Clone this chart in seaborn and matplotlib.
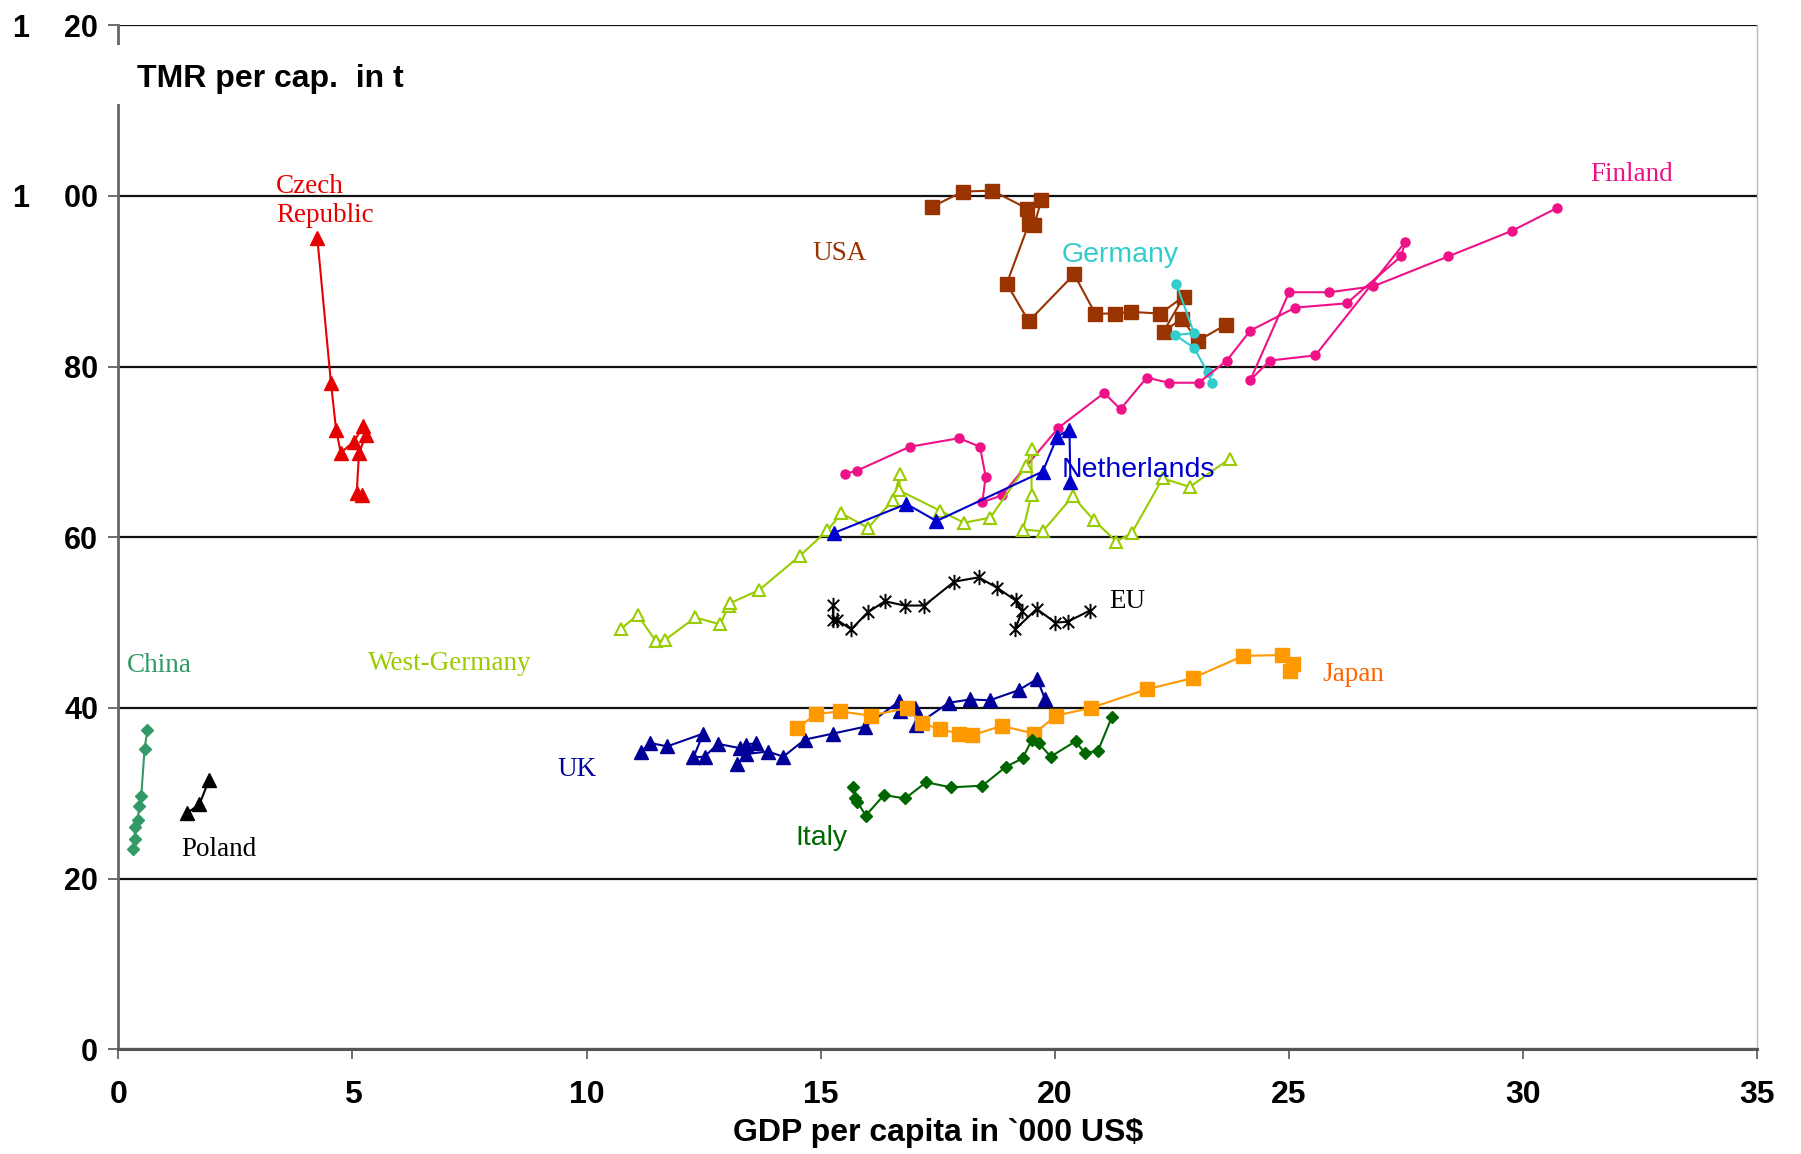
import matplotlib
matplotlib.use("Agg")
import matplotlib.pyplot as plt
from matplotlib.path import Path
from matplotlib.patches import Rectangle
import seaborn as sns
import pandas as pd

# ---------------- data ----------------
czech_x = [4.25, 4.54, 4.65, 4.75, 5.03, 5.23, 5.29, 5.14, 5.09, 5.21]
czech_y = [95.0, 78.1, 72.6, 69.9, 71.2, 73.0, 72.0, 69.9, 65.2, 65.0]

usa_x = [17.37, 18.04, 18.66, 19.41, 19.71, 19.56, 19.44, 18.97, 19.44, 20.41,
         20.86, 21.28, 21.63, 22.25, 22.75, 22.32, 22.71, 23.05, 23.65]
usa_y = [98.7, 100.5, 100.6, 98.5, 99.5, 96.6, 96.7, 89.7, 85.3, 90.8,
         86.2, 86.2, 86.4, 86.2, 88.2, 84.1, 85.6, 83.0, 84.9]

germany_x = [22.59, 22.97, 22.56, 22.97, 23.26, 23.35]
germany_y = [89.7, 83.9, 83.7, 82.2, 79.3, 78.1]

finland_x = [15.51, 15.77, 16.90, 17.95, 18.40, 18.52, 18.45, 18.86, 20.07, 21.05,
             21.40, 21.96, 22.43, 23.07, 23.67, 24.17, 25.13, 26.23, 27.39, 27.48,
             25.56, 24.59, 24.17, 25.00, 25.86, 26.80, 28.40, 29.76, 30.73]
finland_y = [67.4, 67.8, 70.6, 71.6, 70.6, 67.1, 64.1, 64.9, 72.8, 76.9,
             75.0, 78.7, 78.1, 78.1, 80.7, 84.2, 86.9, 87.4, 92.9, 94.6,
             81.3, 80.7, 78.4, 88.7, 88.7, 89.4, 92.9, 95.9, 98.6]

netherlands_x = [15.28, 16.83, 17.47, 19.74, 20.05, 20.31, 20.33]
netherlands_y = [60.5, 63.9, 61.9, 67.7, 71.8, 72.6, 66.5]

wgermany_x = [10.74, 11.09, 11.48, 11.68, 12.32, 12.85, 13.03, 13.07, 13.68, 14.55,
              15.14, 15.44, 16.01, 16.55, 16.69, 16.67, 17.55, 18.06, 18.62, 19.38,
              19.50, 19.50, 19.32, 19.74, 20.38, 20.83, 21.31, 21.64, 22.30, 22.88, 23.73]
wgermany_y = [49.3, 50.9, 47.8, 48.0, 50.6, 49.8, 51.9, 52.3, 53.8, 57.8,
              60.8, 62.8, 61.1, 64.4, 67.4, 65.5, 63.1, 61.7, 62.3, 68.3,
              70.3, 65.0, 60.9, 60.7, 64.8, 62.0, 59.5, 60.5, 66.9, 65.9, 69.2]

eu_x = [15.26, 15.26, 15.35, 15.65, 16.00, 16.37, 16.79, 17.21, 17.85, 18.37,
        18.76, 19.16, 19.30, 19.15, 19.61, 20.01, 20.27, 20.74]
eu_y = [52.1, 50.3, 50.3, 49.2, 51.2, 52.5, 52.0, 52.0, 54.8, 55.3,
        54.1, 52.6, 51.4, 49.2, 51.6, 50.0, 50.1, 51.4]

japan_x = [14.49, 14.90, 15.41, 16.07, 16.84, 17.17, 17.55, 17.96, 18.23, 18.86,
           19.56, 20.02, 20.76, 21.97, 22.94, 24.02, 24.84, 25.08, 25.02]
japan_y = [37.6, 39.3, 39.6, 39.1, 40.0, 38.2, 37.5, 37.0, 36.8, 37.9,
           37.0, 39.1, 40.0, 42.2, 43.5, 46.1, 46.2, 45.2, 44.3]

uk_x = [11.16, 11.36, 11.72, 12.49, 12.28, 12.52, 12.80, 13.27, 13.40, 13.62,
        13.22, 13.40, 13.87, 14.20, 14.66, 15.26, 15.94, 16.68, 16.70, 17.01,
        17.04, 17.73, 18.18, 18.61, 19.23, 19.62, 19.79]
uk_y = [34.9, 35.9, 35.5, 37.0, 34.2, 34.3, 35.8, 35.3, 35.7, 35.9,
        33.4, 34.6, 34.9, 34.3, 36.3, 37.0, 37.8, 40.8, 39.6, 40.0,
        38.0, 40.6, 41.0, 40.9, 42.1, 43.4, 41.0]

italy_x = [15.68, 15.73, 15.78, 15.96, 16.35, 16.80, 17.25, 17.78, 18.45, 18.95,
           19.31, 19.51, 19.65, 19.91, 20.44, 20.64, 20.92, 21.22]
italy_y = [30.8, 29.5, 29.0, 27.4, 29.8, 29.4, 31.3, 30.7, 30.9, 33.1,
           34.1, 36.3, 35.9, 34.3, 36.1, 34.7, 35.0, 39.0]

china_x = [0.31, 0.35, 0.35, 0.41, 0.45, 0.49, 0.56, 0.62]
china_y = [23.5, 24.7, 26.0, 26.9, 28.5, 29.7, 35.2, 37.4]

poland_x = [1.47, 1.73, 1.94]
poland_y = [27.7, 28.7, 31.6]

y_ticks = [0, 20, 40, 60, 80, 100, 120]
y_tick_labels = ["0", "20", "40", "60", "80", "1    00", "1    20"]
x_ticks = [0, 5, 10, 15, 20, 25, 30, 35]
x_tick_labels = ["0", "5", "10", "15", "20", "25", "30", "35"]

# ---------------- style ----------------
sns.set_theme(style="white")
plt.rcParams["font.family"] = ["Liberation Sans", "DejaVu Sans"]
plt.rcParams["text.color"] = "black"
plt.rcParams["axes.labelcolor"] = "black"
plt.rcParams["xtick.color"] = "black"
plt.rcParams["ytick.color"] = "black"

fig = plt.figure(figsize=(18.01, 11.54), dpi=100)
ax = fig.add_axes([0.0657, 0.0906, 0.9101, 0.8877])

# asterisk marker: X with a vertical bar
star = Path([(0, -1), (0, 1), (-0.75, -0.75), (0.75, 0.75), (-0.75, 0.75), (0.75, -0.75)],
            [Path.MOVETO, Path.LINETO, Path.MOVETO, Path.LINETO, Path.MOVETO, Path.LINETO])

series = [
    # x, y, color, marker, size, facecolor
    (czech_x, czech_y, "#E60000", "^", 10, None),
    (usa_x, usa_y, "#993300", "s", 10, None),
    (germany_x, germany_y, "#33CCCC", "o", 6.5, None),
    (finland_x, finland_y, "#EE1188", "o", 6.5, None),
    (wgermany_x, wgermany_y, "#99CC00", "^", 9, "white"),
    (netherlands_x, netherlands_y, "#0000CC", "^", 9.5, None),
    (eu_x, eu_y, "black", star, 11, None),
    (uk_x, uk_y, "#000099", "^", 9.5, None),
    (japan_x, japan_y, "#FF9900", "s", 10, None),
    (italy_x, italy_y, "#006600", "D", 6, None),
    (china_x, china_y, "#339966", "D", 6.5, None),
    (poland_x, poland_y, "black", "^", 9.5, None),
]

for xs, ys, col, mk, ms, mfc in series:
    df = pd.DataFrame({"x": xs, "y": ys})
    kw = dict(marker=mk, markersize=ms, color=col, markeredgecolor=col,
              linewidth=1.5, markeredgewidth=1.5 if mfc else 1.0)
    if mfc:
        kw["markerfacecolor"] = mfc
    if mk is star:
        kw["markeredgewidth"] = 1.4
    sns.lineplot(data=df, x="x", y="y", sort=False, estimator=None, ax=ax, **kw)

# ---------------- axes ----------------
ax.set_xlim(0, 35)
ax.set_ylim(0, 120)
ax.set_yticks(y_ticks)
ax.set_yticklabels(y_tick_labels)
ax.set_xticks(x_ticks)
ax.set_xticklabels(x_tick_labels)
ax.yaxis.grid(True, color="#111111", linewidth=1.6)
ax.xaxis.grid(False)
ax.set_axisbelow(True)

ax.tick_params(axis="both", which="major", direction="out", length=7, width=1.2,
               color="#555555", labelcolor="black")
ax.tick_params(axis="y", pad=7.5, left=True, labelsize=22)
ax.tick_params(axis="x", pad=15, bottom=True, labelsize=23)
for lbl in ax.get_xticklabels() + ax.get_yticklabels():
    lbl.set_fontweight("bold")

ax.spines["top"].set_visible(False)
ax.spines["left"].set_color("#666666")
ax.spines["left"].set_linewidth(2)
ax.spines["bottom"].set_color("#555555")
ax.spines["bottom"].set_linewidth(2.2)
ax.spines["right"].set_color("#BBBBBB")
ax.spines["right"].set_linewidth(1)

ax.set_xlabel("GDP per capita in `000 US$", fontsize=23, fontweight="bold",
              labelpad=6, color="black")
ax.set_ylabel("")

# white box behind the axis title, interrupting the left spine
ax.add_patch(Rectangle((-0.3, 110.8), 7.2, 6.9, facecolor="white", edgecolor="none",
                       zorder=4, clip_on=False))
ax.text(0.39, 112.7, "TMR per cap.  in t", fontsize=23, fontweight="bold",
        color="black", ha="left", va="baseline", zorder=5)

# ---------------- series labels ----------------
serif = ["Liberation Serif", "DejaVu Serif"]
sans = ["Liberation Sans", "DejaVu Sans"]
labels = [
    ("Czech", 3.37, 100.35, "#E60000", serif),
    ("Republic", 3.37, 96.9, "#E60000", serif),
    ("USA", 14.83, 92.5, "#993300", serif),
    ("Germany", 20.15, 92.2, "#33CCCC", sans),
    ("Finland", 31.43, 101.7, "#EE1188", serif),
    ("Netherlands", 20.14, 67.1, "#0000CC", sans),
    ("EU", 21.15, 51.7, "black", serif),
    ("Japan", 25.71, 43.2, "#FF6600", serif),
    ("China", 0.18, 44.2, "#339966", serif),
    ("West-Germany", 5.34, 44.4, "#99CC00", serif),
    ("UK", 9.38, 32.0, "#000099", serif),
    ("Poland", 1.34, 22.7, "black", serif),
    ("Italy", 14.46, 23.95, "#006600", sans),
]
for txt, x, y, col, fam in labels:
    ax.text(x, y, txt, color=col, family=fam,
            fontsize=19.5 if fam is serif else 20.5,
            ha="left", va="baseline", zorder=6)

fig.savefig("out.png", dpi=100)
